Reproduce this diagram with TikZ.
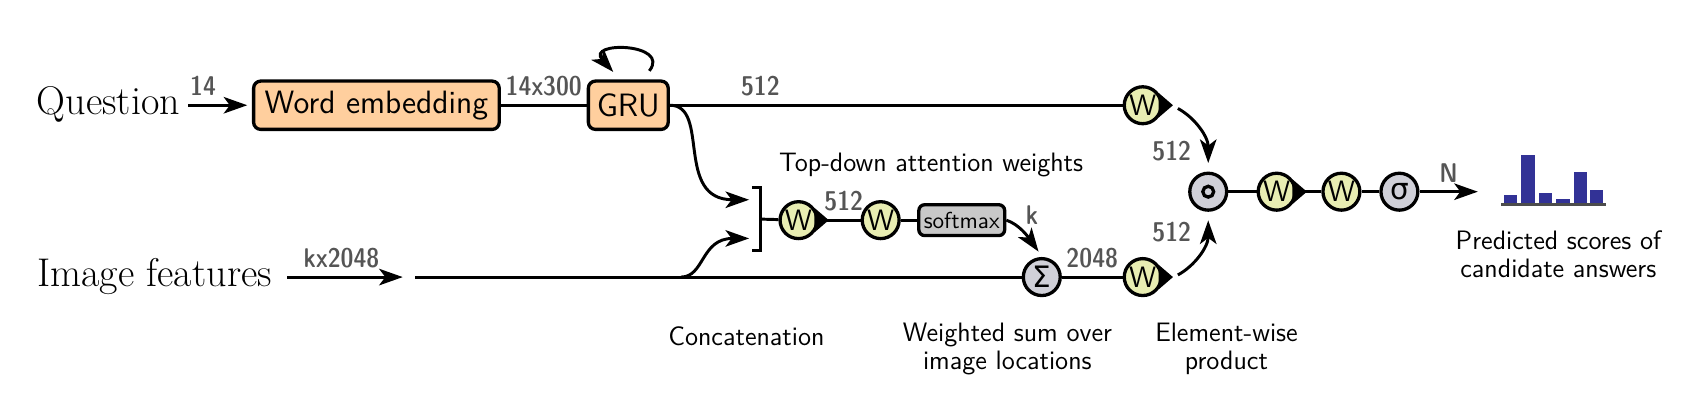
\documentclass[tikz,border=0pt]{standalone}
\usepackage{fontspec}
\usepackage{tikz}
\usetikzlibrary{arrows.meta, positioning, calc}
\newfontfamily\greekfont{DejaVu Sans}

\definecolor{peach}{RGB}{255,207,158}
\definecolor{wfill}{RGB}{232,237,178}
\definecolor{opfill}{RGB}{208,208,216}
\definecolor{smfill}{RGB}{200,200,200}
\definecolor{numgray}{RGB}{85,85,85}
\definecolor{barblue}{RGB}{50,50,150}

\tikzset{
	conn/.style={line width=1.25pt},
	arr/.style={conn, -{Stealth[length=10pt, width=7pt, inset=2.6pt]}},
	blk/.style={draw, line width=1.4pt, rounded corners=3pt, fill=peach, minimum height=0.72cm, inner sep=0pt, font=\fontsize{13.7}{16}\sffamily},
	smbox/.style={draw, line width=1.4pt, rounded corners=2.5pt, fill=smfill, minimum width=1.28cm, minimum height=0.46cm, inner sep=0pt, font=\fontsize{9.8}{11}\sffamily},
	wnode/.style={circle, draw, line width=1.4pt, fill=wfill, minimum size=0.55cm, inner sep=0pt, font=\fontsize{12.5}{13}\sffamily},
	opnode/.style={wnode, fill=opfill},
	num/.style={text=numgray, font=\fontsize{11.5}{12}\sffamily\fontseries{sbc}\selectfont},
	captxt/.style={align=center, font=\fontsize{11.3}{11.8}\sffamily},
	inlabel/.style={anchor=base, font=\fontsize{17}{20}\selectfont},
}

\begin{document}
\begin{tikzpicture}[x=0.016cm, y=-0.016cm]
		\useasboundingbox (0,0) rectangle (1568,381);
		
		\node[inlabel] (question) at (101,106.5) {Question};
		\node[inlabel] (image) at (144,266.5) {Image features};
		\node[blk, minimum width=3.66cm] (embed) at (350.5,98) {Word embedding};
		\node[blk, minimum width=1.19cm] (gru) at (585,98) {GRU};
		\node[wnode] (wq) at (1064,98) {W};
		\node[wnode] (wa) at (743.5,205) {W};
		\node[wnode] (wb) at (820,205) {W};
		\node[smbox] (softmax) at (895.5,205) {softmax};
		\node[opnode] (wsum) at (970,258) {\greekfont Σ};
		\node[wnode] (wv) at (1064,258) {W};
		\node[opnode] (prod) at (1125,178.5) {};
		\node[wnode] (wc) at (1188.7,178.5) {W};
		\node[wnode] (wd) at (1249,178.5) {W};
		\node[opnode] (sig) at (1303,178.5) {\greekfont σ};
		
		\coordinate (cat) at (708,204);
		\coordinate (cattop) at (697.5,186);
		\coordinate (catbot) at (697.5,222);
		\coordinate (imgtip) at (375,258);
		\coordinate (imgstart) at (386.5,258);
		\coordinate (split) at (634,258);
		\coordinate (out) at (1376,178.5);
		
		\foreach \n in {wq,wa,wv,wc}
			\fill (\n.38) -- ([xshift=4.3pt]\n.east) -- (\n.-38) -- cycle;
		\draw[line width=1.4pt] (prod) circle (2.3pt);
		
		\draw[arr, shorten >=2pt] (question.east |- embed.west) -- node[num, above, pos=0.23] {14} (embed.west);
		\draw[conn] (embed) -- node[num, above] {14x300} (gru);
		\draw[arr] ([shift={(19.6,-32)}]gru.center) .. controls +(20.4,-26) and +(-26,-29) .. ([shift={(-14,-31)}]gru.center);
		\draw[conn] (gru) -- node[num, above, pos=0.2] {512} (wq);
		\draw[arr] (gru.east) .. controls +(38,0) and +(-70,0) .. (cattop);
		
		\draw[arr, shorten <=3pt] (image.east |- imgtip) -- node[num, above] {kx2048} (imgtip);
		\draw[conn] (imgstart) -- (wsum);
		\draw[arr] (split) .. controls +(22,0) and +(-45,0) .. (catbot);
		\draw[conn] ($(cat)+(-8,-29)$) -- ($(cat)+(0,-29)$) -- ($(cat)+(0,29)$) -- ($(cat)+(-8,29)$);
		\draw[conn] (cat -| cattop) ++(10,0) -- (wa);
		\draw[conn] (wa) -- node[num, above, pos=0.6] {512} (wb);
		\draw[conn] (wb) -- (softmax);
		\draw[arr] (softmax.east) .. controls +(12,4) and +(-10,-14) .. ($(wsum.north)+(-3,-5)$);
		\node[num] (klabel) at (961,200) {k};
		\node[captxt] (attn) at (867,154) {Top-down attention weights};
		\draw[conn] (wsum) -- node[num, above] {2048} (wv);
		
		\draw[arr] ($(wq.east)+(14,3)$) .. controls +(15,8) and +(0,-25) .. ($(prod.north)+(0,-8)$);
		\draw[arr] ($(wv.east)+(14,-2)$) .. controls +(15,-8) and +(0,25) .. ($(prod.south)+(0,8)$);
		\node[num] (ntop) at (1091,141) {512};
		\node[num] (nbot) at (1091,215.7) {512};
		\draw[conn] (prod) -- (wc);
		\draw[conn] (wc) -- (wd);
		\draw[conn] (wd) -- (sig);
		\draw[arr] (sig) -- node[num, above] {N} (out);
		
		\foreach \x/\t in {1400.4/181.9, 1416.5/144.3, 1433/179.4, 1449.2/185.3, 1465.3/160.1, 1480.4/177.2}
			\fill[barblue] (\x,190) rectangle +(12.4,\t-190);
		\draw[line width=1.2pt, black!70] (1398,190.5) -- (1495,190.5);
		\node[captxt] (scores) at (1451,237) {Predicted scores of\\candidate answers};
		
		\node[captxt] (concat) at (695,313) {Concatenation};
		\node[captxt] (wsumcap) at (938,325) {Weighted sum over\\image locations};
		\node[captxt] (prodcap) at (1142,325) {Element-wise\\product};
		\end{tikzpicture}
\end{document}
